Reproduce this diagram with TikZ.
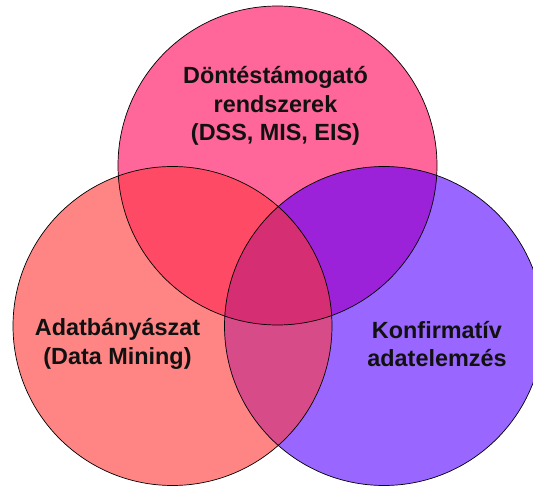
\documentclass[tikz,border=0pt]{standalone}
\usepackage{fontspec}
\setmainfont{Liberation Sans}
\definecolor{ctop}{HTML}{FF6699}
\definecolor{cleft}{HTML}{FF8585}
\definecolor{cright}{HTML}{9966FF}
\definecolor{ctl}{HTML}{FF4A66}
\definecolor{ctr}{HTML}{9B22D9}
\definecolor{clr}{HTML}{D74B88}
\definecolor{call}{HTML}{D52E72}
\definecolor{txt}{HTML}{111111}
\tikzset{
  rim/.style={draw=black, line width=0.7pt},
  lbl/.style={align=center, text=txt, font=\fontsize{23.4}{28.6}\selectfont\bfseries, inner sep=0pt}
}
\newcommand{\rr}{159.5pt}
\begin{document}
\begin{tikzpicture}[x=1pt,y=-1pt]
\useasboundingbox (0,0) rectangle (533,486);
\clip (0,0) rectangle (533,486);
\coordinate (T) at (277.5,165.5);
\coordinate (L) at (172.5,326);
\coordinate (R) at (384,326);
\fill[ctop] (T) circle[radius=\rr];
\fill[cleft] (L) circle[radius=\rr];
\fill[cright] (R) circle[radius=\rr];
\begin{scope}
  \clip (T) circle[radius=\rr];
  \fill[ctl] (L) circle[radius=\rr];
  \fill[ctr] (R) circle[radius=\rr];
\end{scope}
\begin{scope}
  \clip (L) circle[radius=\rr];
  \fill[clr] (R) circle[radius=\rr];
\end{scope}
\begin{scope}
  \clip (T) circle[radius=\rr];
  \clip (L) circle[radius=\rr];
  \fill[call] (R) circle[radius=\rr];
\end{scope}
\draw[rim] (T) circle[radius=\rr];
\draw[rim] (L) circle[radius=\rr];
\draw[rim] (R) circle[radius=\rr];
\node[lbl] (tt) at (275.5,106) {Döntéstámogató\\rendszerek\\(DSS, MIS, EIS)};
\node[lbl] (lt) at (117.5,344) {Adatbányászat\\(Data Mining)};
\node[lbl] (rt) at (437,344) {Konfirmatív\\adatelemzés};
\end{tikzpicture}
\end{document}
